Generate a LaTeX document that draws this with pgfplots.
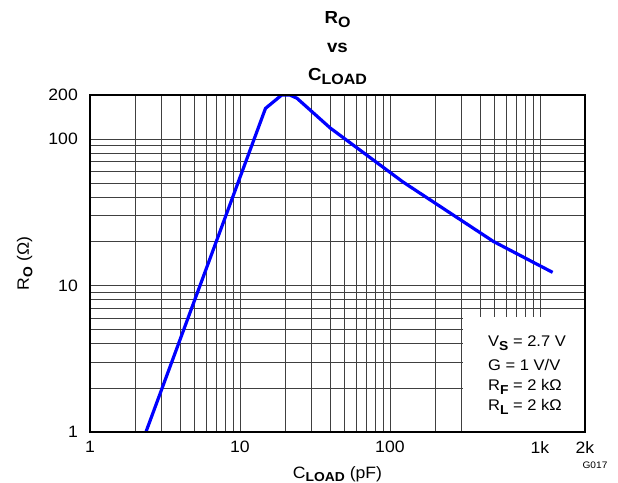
\documentclass[border=0pt]{standalone}
\usepackage{pgfplots}
\pgfplotsset{compat=1.18}
\usepackage{fontspec}
\setmainfont{Liberation Sans}[FakeStretch=1.07]
\definecolor{curveblue}{RGB}{0,0,255}
\newcommand\sub[1]{\raisebox{-3.5bp}{\fontsize{13}{15}\selectfont\bfseries #1}}
\newcommand\tsub[1]{\raisebox{-4bp}{\fontsize{15}{17}\selectfont\bfseries #1}}

\begin{document}
\begin{tikzpicture}
\path[use as bounding box] (-90bp,-51bp) rectangle (528bp,432bp);
\begin{axis}[
    at={(0,0)}, anchor=south west,
    scale only axis,
    width=495bp, height=337bp,
    xmode=log, ymode=log,
    xmin=1, xmax=2000, ymin=1, ymax=200,
    xtick={1,10,100,1000}, xticklabels={1,10,100,1k},
    extra x ticks={2000}, extra x tick labels={2k},
    ytick={1,10,100}, yticklabels={1,10,100},
    extra y ticks={200}, extra y tick labels={200},
    extra tick style={grid=none},
    major tick length=0, minor tick length=0,
    grid=both,
    major grid style={black!75, line width=0.7bp},
    minor grid style={black!75, line width=0.7bp},
    axis line style={line width=2bp},
    /pgf/number format/assume math mode=true,
    tick label style={font=\fontsize{16.5}{18}\selectfont},
    xticklabel style={inner sep=0pt, anchor=north, yshift=-9bp},
    yticklabel style={inner sep=0pt, anchor=east, xshift=-12bp},
    xlabel={C\sub{LOAD} (pF)},
    xlabel style={font=\fontsize{16.5}{18}\selectfont, at={(axis description cs:0.5,0)}, anchor=base, yshift=-46bp},
    ylabel={R\sub{O} (Ω)},
    ylabel style={font=\fontsize{16.5}{18}\selectfont, at={(axis description cs:0,0.5)}, anchor=base, yshift=61bp},
    title={R\tsub{O}\\vs\\C\tsub{LOAD}},
    title style={font=\fontsize{17.5}{28.5}\selectfont\bfseries, align=center, at={(axis description cs:0.5,1)}, anchor=south, inner sep=0pt, yshift=4bp},
]
\addplot[curveblue, line width=3.2bp] coordinates {
    (2.36,1) (14.8,162) (19,200) (21.5,200) (24,190) (40,119)
    (122,51) (490,20) (1216,12.3)
};
\fill[white] (rel axis cs:0.7535,0) rectangle (rel axis cs:1,0.3412);
\draw[line width=2bp] (rel axis cs:0,0) rectangle (rel axis cs:1,1);
\node[anchor=base west, inner sep=0pt, font=\fontsize{15.5}{18}\selectfont] at (rel axis cs:0.804,0.2531) {V\sub{S} = 2.7 V};
\node[anchor=base west, inner sep=0pt, font=\fontsize{15.5}{18}\selectfont] at (rel axis cs:0.804,0.1819) {G = 1 V/V};
\node[anchor=base west, inner sep=0pt, font=\fontsize{15.5}{18}\selectfont] at (rel axis cs:0.804,0.1226) {R\sub{F} = 2 kΩ};
\node[anchor=base west, inner sep=0pt, font=\fontsize{15.5}{18}\selectfont] at (rel axis cs:0.804,0.0632) {R\sub{L} = 2 kΩ};
\end{axis}
\node[font=\fontsize{9.5}{11}\selectfont, inner sep=0pt] at (505bp,-33.5bp) {G017};
\end{tikzpicture}
\end{document}
